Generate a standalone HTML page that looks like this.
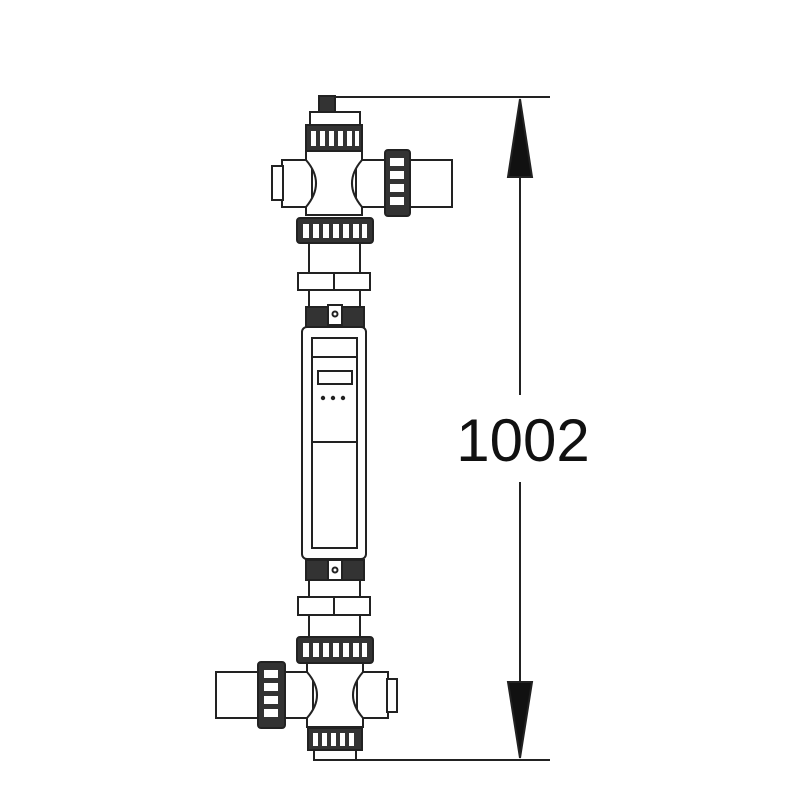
<!DOCTYPE html>
<html><head><style>html,body{margin:0;padding:0;background:#fff}svg{display:block}</style></head>
<body>
<svg width="800" height="800" viewBox="0 0 800 800" xmlns="http://www.w3.org/2000/svg" fill="#fff" stroke="#222" stroke-width="2">
<!-- dimension -->
<line x1="335" y1="97" x2="550" y2="97"/>
<line x1="355" y1="760" x2="550" y2="760"/>
<line x1="520" y1="170" x2="520" y2="395"/>
<line x1="520" y1="482" x2="520" y2="690"/>
<polygon points="520,99 508,177 532,177" fill="#111"/>
<polygon points="520,758 508,682 532,682" fill="#111"/>
<text x="523" y="461" font-family="Liberation Sans, sans-serif" font-size="60" fill="#111" stroke="none" text-anchor="middle">1002</text>

<!-- top assembly -->
<rect x="319" y="96" width="16" height="16" fill="#333"/>
<rect x="310" y="112" width="50" height="13"/>
<rect x="306" y="125" width="56" height="26" fill="#333"/>
<g fill="#fff" stroke="none"><rect x="311" y="131" width="5" height="15"/><rect x="320" y="131" width="5" height="15"/><rect x="329" y="131" width="5" height="15"/><rect x="338" y="131" width="5" height="15"/><rect x="347" y="131" width="5" height="15"/><rect x="355" y="131" width="4" height="15"/></g>
<rect x="282" y="160" width="30" height="47"/>
<rect x="272" y="166" width="11" height="34"/>
<rect x="356" y="160" width="29" height="47"/>
<path d="M306 151 L362 151 L362 160 Q342 183 362 207 L362 215 L306 215 L306 207 Q326 183 306 160 Z"/>
<rect x="385" y="150" width="25" height="66" rx="3" fill="#333"/>
<g fill="#fff" stroke="none"><rect x="390" y="158" width="14" height="8"/><rect x="390" y="171" width="14" height="8"/><rect x="390" y="184" width="14" height="8"/><rect x="390" y="197" width="14" height="8"/></g>
<rect x="410" y="160" width="42" height="47"/>
<rect x="297" y="218" width="76" height="25" rx="3" fill="#333"/>
<g fill="#fff" stroke="none"><rect x="303" y="224" width="6" height="14"/><rect x="313" y="224" width="6" height="14"/><rect x="323" y="224" width="6" height="14"/><rect x="333" y="224" width="6" height="14"/><rect x="343" y="224" width="6" height="14"/><rect x="353" y="224" width="6" height="14"/><rect x="362" y="224" width="5" height="14"/></g>
<rect x="309" y="243" width="51" height="82"/>
<rect x="298" y="273" width="72" height="17"/>
<line x1="334" y1="273" x2="334" y2="290"/>
<rect x="306" y="307" width="58" height="20" fill="#333"/>
<rect x="328" y="305" width="14" height="20"/>
<circle cx="335" cy="314" r="2.5"/>

<!-- body -->
<rect x="302" y="327" width="64" height="232" rx="5"/>
<rect x="312" y="338" width="45" height="210"/>
<line x1="312" y1="357" x2="357" y2="357"/>
<line x1="312" y1="442" x2="357" y2="442"/>
<rect x="318" y="371" width="34" height="13"/>
<g fill="#222" stroke="none"><circle cx="323" cy="398" r="2.2"/><circle cx="333" cy="398" r="2.2"/><circle cx="343" cy="398" r="2.2"/></g>

<!-- bottom assembly -->
<rect x="306" y="560" width="58" height="20" fill="#333"/>
<rect x="328" y="560" width="14" height="20"/>
<circle cx="335" cy="570" r="2.5"/>
<rect x="309" y="580" width="51" height="58"/>
<rect x="298" y="597" width="72" height="18"/>
<line x1="334" y1="597" x2="334" y2="615"/>
<rect x="297" y="637" width="76" height="26" rx="3" fill="#333"/>
<g fill="#fff" stroke="none"><rect x="303" y="643" width="6" height="14"/><rect x="313" y="643" width="6" height="14"/><rect x="323" y="643" width="6" height="14"/><rect x="333" y="643" width="6" height="14"/><rect x="343" y="643" width="6" height="14"/><rect x="353" y="643" width="6" height="14"/><rect x="362" y="643" width="5" height="14"/></g>
<rect x="216" y="672" width="42" height="46"/>
<rect x="258" y="662" width="27" height="66" rx="3" fill="#333"/>
<g fill="#fff" stroke="none"><rect x="264" y="670" width="14" height="8"/><rect x="264" y="683" width="14" height="8"/><rect x="264" y="696" width="14" height="8"/><rect x="264" y="709" width="14" height="8"/></g>
<rect x="285" y="672" width="28" height="46"/>
<rect x="357" y="672" width="31" height="46"/>
<rect x="387" y="679" width="10" height="33"/>
<path d="M307 663 L363 663 L363 672 Q343 695 363 718 L363 727 L307 727 L307 718 Q327 695 307 672 Z"/>
<rect x="308" y="728" width="54" height="22" fill="#333"/>
<g fill="#fff" stroke="none"><rect x="313" y="733" width="5" height="13"/><rect x="322" y="733" width="5" height="13"/><rect x="331" y="733" width="5" height="13"/><rect x="340" y="733" width="5" height="13"/><rect x="349" y="733" width="5" height="13"/></g>
<rect x="314" y="750" width="42" height="10"/>
</svg>
</body></html>
